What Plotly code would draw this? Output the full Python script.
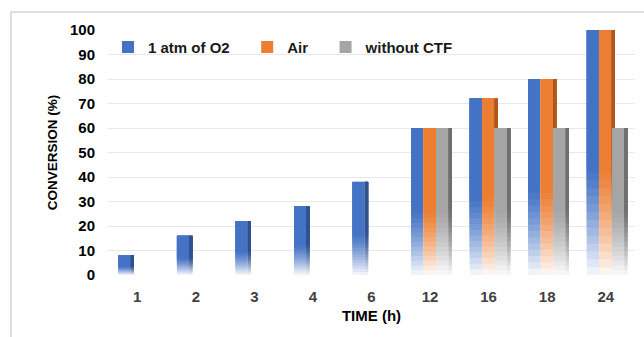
import plotly.graph_objects as go

categories = ["1", "2", "3", "4", "6", "12", "16", "18", "24"]
o2_values = [8, 16, 22, 28, 38, 60, 72, 80, 100]
air_values = [0, 0, 0, 0, 0, 60, 72, 80, 100]
no_ctf_values = [0, 0, 0, 0, 0, 60, 60, 60, 60]
series_names = ["1 atm of O2\u00a0\u00a0\u00a0", "Air\u00a0\u00a0\u00a0", "without CTF"]
series_values = [o2_values, air_values, no_ctf_values]
front_colors = ["#4472C4", "#ED7D31", "#A5A5A5"]
side_colors = ["#2F528F", "#B0561E", "#6F6F6F"]

W, H = 644, 337
L, R, T, B = 108, 9, 30, 62
PW, PH = W - L - R, H - T - B

def mix(hexc, t):
    hexc = hexc.lstrip("#")
    r, g, b = (int(hexc[i:i + 2], 16) for i in (0, 2, 4))
    r = round(r + (255 - r) * t)
    g = round(g + (255 - g) * t)
    b = round(b + (255 - b) * t)
    return f"rgb({r},{g},{b})"

fig = go.Figure()
bw = 0.215
side_w = 0.055
solid_frac = 0.45
K = 14

for s, (name, vals) in enumerate(zip(series_names, series_values)):
    off = -1.5 * bw + s * bw
    for part, (width, offset, col) in enumerate([
        (bw, off, front_colors[s]),
        (side_w, off + bw - 0.005, side_colors[s]),
    ]):
        # fading lower part: each layer spans from its base to the top, later layers cover upper ones
        for j in range(K):
            frac = (j + 0.5) / K
            t = 0.96 * (1 - frac) ** 1.3
            fig.add_trace(go.Bar(
                x=categories, y=[v * (1 - solid_frac * j / K) for v in vals],
                base=[v * solid_frac * j / K for v in vals],
                width=width, offset=offset,
                marker=dict(color=mix(col, t), line=dict(width=0)),
                showlegend=False, legendgroup=name, hoverinfo="skip",
            ))
        # solid upper part
        fig.add_trace(go.Bar(
            x=categories, y=[v * (1 - solid_frac) for v in vals],
            base=[v * solid_frac for v in vals],
            width=width, offset=offset,
            marker=dict(color=col, line=dict(width=0)),
            name=name, showlegend=(part == 0), legendgroup=name,
            hoverinfo="skip",
        ))

font_family = "Liberation Sans, Arial, sans-serif"

fig.update_layout(
    width=W, height=H,
    margin=dict(l=L, r=R, t=T, b=B, autoexpand=False),
    barmode="overlay",
    plot_bgcolor="white", paper_bgcolor="white",
    font=dict(family=font_family, color="#000000"),
    legend=dict(
        orientation="h", x=0.0, y=0.93, xanchor="left", yanchor="middle",
        font=dict(size=15, color="#1a1a1a", weight="bold"),
        bgcolor="rgba(0,0,0,0)", itemwidth=30, traceorder="normal",
    ),
    xaxis=dict(
        type="category", showgrid=False, zeroline=False, showline=False,
        ticks="", tickfont=dict(size=15, color="#404040", weight="bold"),
        ticklabelstandoff=11,
        title=dict(text="TIME (h)", font=dict(size=15, weight="bold", color="#000"), standoff=6),
    ),
    yaxis=dict(
        range=[0, 100], dtick=10, showgrid=True, gridcolor="#e8e8e8", gridwidth=1,
        zeroline=False, showline=False, ticks="",
        tickfont=dict(size=15, color="#000", weight="bold"),
        ticklabelstandoff=12,
        title=dict(text="CONVERSION (%)", font=dict(size=13.5, weight="bold", color="#000"), standoff=9),
    ),
    shapes=[
        dict(type="line", xref="paper", yref="paper",
             x0=(11 - L) / PW, x1=(11 - L) / PW,
             y0=-(B + 5) / PH, y1=(H - B - 12) / PH,
             line=dict(color="#d4d4d4", width=1.5)),
        dict(type="line", xref="paper", yref="paper",
             x0=(11 - L) / PW, x1=(W + 5 - L) / PW,
             y0=(H - B - 12) / PH, y1=(H - B - 12) / PH,
             line=dict(color="#d4d4d4", width=1.5)),
    ],
)

fig.write_html("out.html")
